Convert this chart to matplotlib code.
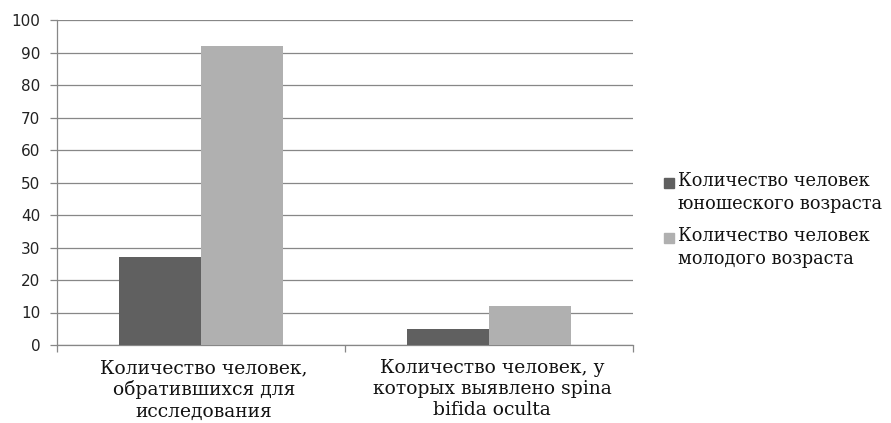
import matplotlib.pyplot as plt
from matplotlib.patches import Rectangle
import numpy as np

categories = ["Количество человек,\nобратившихся для\nисследования",
              "Количество человек, у\nкоторых выявлено spina\nbifida oculta"]
series_names = ["Количество человек\nюношеского возраста",
                "Количество человек\nмолодого возраста"]
youth = [27, 5]
young = [92, 12]
yticks = [0, 10, 20, 30, 40, 50, 60, 70, 80, 90, 100]
colors = ["#606060", "#b0b0b0"]

grid_col = "#878787"
serif = "DejaVu Serif"
W, H = 891, 423

fig = plt.figure(figsize=(W / 100, H / 100), dpi=100)
ax = fig.add_axes([57 / W, 1 - 345 / H, 576 / W, 325 / H])

ind = np.arange(len(categories))
width = 0.285
ax.bar(ind - width / 2, youth, width=width, color=colors[0], zorder=3)
ax.bar(ind + width / 2, young, width=width, color=colors[1], zorder=3)

ax.set_xlim(-0.5, 1.5)
ax.set_ylim(0, 100)
ax.set_yticks(yticks)
ax.set_yticklabels([str(v) for v in yticks], family="DejaVu Sans", fontsize=11, color="#222222")
ax.yaxis.grid(True, color=grid_col, linewidth=0.9, zorder=0)
ax.tick_params(axis="y", length=5, color=grid_col, width=0.9, pad=7)

ax.set_xticks([-0.5, 0.5, 1.5])
ax.set_xticklabels([])
ax.tick_params(axis="x", length=5, color=grid_col, width=0.9, direction="out")
for i, c in enumerate(categories):
    ax.text(i + 0.01, -4.3, c, ha="center", va="top", family=serif,
            fontsize=13.5, linespacing=1.23, color="#111111")

for s in ["top", "right"]:
    ax.spines[s].set_visible(False)
for s in ["left", "bottom"]:
    ax.spines[s].set_color(grid_col)
    ax.spines[s].set_linewidth(0.9)

# legend: square next to the first line of each two-line label
for k, name in enumerate(series_names):
    top = 172 + k * 55
    sq = Rectangle((664 / W, 1 - (top + 16) / H), 10 / W, 10 / H,
                   transform=fig.transFigure, color=colors[k])
    fig.add_artist(sq)
    fig.text(678 / W, 1 - top / H, name, ha="left", va="top", family=serif,
             fontsize=12.8, linespacing=1.33, color="#111111")

fig.savefig("out.png", dpi=100, facecolor="white")
